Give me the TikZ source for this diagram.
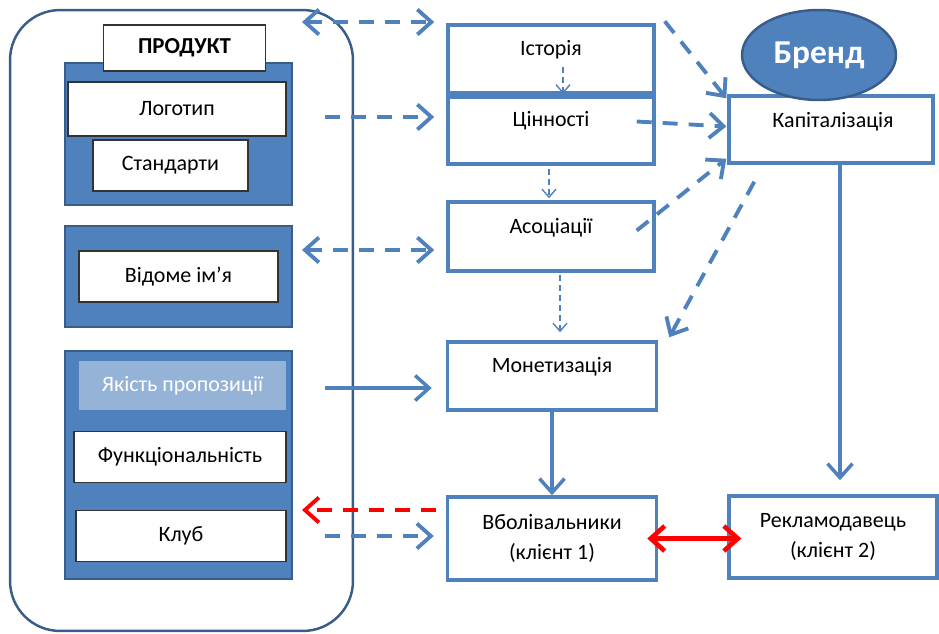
\documentclass[tikz,border=0pt]{standalone}
\usepackage{fontspec}
\setmainfont{Carlito}
\usetikzlibrary{arrows.meta, positioning, calc, shapes.geometric}
\definecolor{cblue}{RGB}{79,129,189}
\definecolor{cdark}{RGB}{56,93,138}
\definecolor{clight}{RGB}{149,179,215}
\definecolor{cred}{RGB}{255,0,0}

\begin{document}
\begin{tikzpicture}[
    x=0.02cm, y=-0.02cm,
    >={Straight Barb[length=2.8mm, width=5mm]},
    txt/.style={font=\fontsize{12.5}{15}\selectfont},
    frame/.style={draw=cdark, line width=1.4pt, rounded corners=1cm, minimum width=6.86cm, minimum height=12.42cm},
    panel/.style={draw=cdark, line width=1.6pt, fill=cblue, minimum width=4.54cm},
    item/.style={txt, draw=black!80, line width=0.9pt, fill=white, minimum height=1.02cm},
    box/.style={draw=cblue, line width=2pt, fill=white, minimum width=4.12cm, minimum height=1.36cm},
    link/.style={draw=cblue, line width=2.2pt, dash pattern=on 3mm off 2.2mm},
    thinlink/.style={draw=cblue, line width=0.8pt, dash pattern=on 1.2mm off 0.8mm, -{Straight Barb[length=1.6mm, width=2.8mm]}},
    flow/.style={draw=cblue, line width=2pt, ->},
]
    \useasboundingbox (0,0) rectangle (939,633);

    % Product frame
    \node[frame] (frame) at (181.5,320.5) {};
    \node[panel, minimum height=2.84cm] (pan1) at (178.5,134) {};
    \node[item, minimum width=4.36cm, minimum height=1.08cm] (logo) at (177,109) {Логотип};
    \node[item, minimum width=3.1cm] (stand) at (170.5,165.5) {Стандарти};
    \node[item, font=\fontsize{13}{15}\selectfont\bfseries, minimum width=3.24cm, minimum height=0.92cm] (produkt) at (184.5,48) {ПРОДУКТ};

    \node[panel, minimum height=2.02cm] (pan2) at (178.5,276.5) {};
    \node[item, minimum width=3.98cm] (vidome) at (178.5,276.5) {Відоме ім’я};

    \node[panel, minimum height=4.56cm] (pan3) at (178.5,465) {};
    \node[txt, fill=clight, text=white, minimum width=4.14cm, minimum height=0.98cm] (yakist) at (182.5,385.5) {Якість пропозиції};
    \node[item, minimum width=4.24cm] (funk) at (180,457) {Функціональність};
    \node[item, minimum width=4.2cm] (klub) at (181,536) {Клуб};

    % Brand column
    \node[box] (ist) at (551,59) {};
    \node[txt] (ist-t) at (551,50) {Історія};
    \node[box, minimum height=1.34cm] (tsin) at (551,130.5) {};
    \node[txt] (tsin-t) at (551,121) {Цінності};
    \node[box, minimum height=1.38cm] (asots) at (551,236.5) {};
    \node[txt] (asots-t) at (551,228) {Асоціації};
    \node[box, minimum width=4.18cm] (monet) at (552,376) {};
    \node[txt] (monet-t) at (552,367) {Монетизація};
    \node[box, txt, align=center, minimum width=4.18cm, minimum height=1.66cm] (vbol) at (552,538.5) {Вболівальники\\[2pt](клієнт 1)};
    \node[box, txt, align=center, minimum width=4.16cm, minimum height=1.64cm] (rekl) at (833,537) {Рекламодавець\\[2pt](клієнт 2)};
    \node[box, minimum width=4.08cm, minimum height=1.34cm] (kap) at (831,129.5) {};
    \node[txt] (kap-t) at (833,122) {Капіталізація};
    \node[ellipse, draw=cdark, line width=1.4pt, fill=cblue, text=white, font=\fontsize{19}{21}\selectfont\bfseries, minimum width=3.08cm, minimum height=1.8cm] (brend) at (819,55) {Бренд};

    % Links from product
    \coordinate (p1) at (302,22);
    \coordinate (p2) at (325,117);
    \coordinate (p3) at (302,250);
    \coordinate (p4) at (325,388);
    \coordinate (p5) at (302,510);
    \coordinate (p6) at (325,536);
    \draw[link, <->] (p1) -- ($(ist.west |- p1)+(-12,0)$);
    \draw[link, ->] (p2) -- ($(tsin.west |- p2)+(-12,0)$);
    \draw[link, <->] (p3) -- ($(asots.west |- p3)+(-12,0)$);
    \draw[flow] (p4) -- ($(monet.west |- p4)+(-14,0)$);
    \draw[link, draw=cred, ->] ($(vbol.west |- p5)+(-10,0)$) -- (p5);
    \draw[link, ->] (p6) -- ($(vbol.west |- p6)+(-12,0)$);

    % Inside the column
    \draw[thinlink] ($(ist.south)+(12,-28)$) -- ($(ist.south)+(12,-1)$);
    \draw[thinlink] ($(tsin.south)+(-2,3)$) -- ($(asots.north)+(-2,-2)$);
    \draw[thinlink] ($(asots.south)+(9,2)$) -- ($(monet.north)+(8,-8)$);

    % To and from capitalisation
    \draw[link, ->] ($(ist.north east)+(9,-2)$) -- ($(kap.north west)+(-1,4)$);
    \draw[link, ->] ($(tsin.east)+(-19,-9)$) -- ($(kap.west)+(-1,-3)$);
    \draw[link, ->] ($(asots.east)+(-19,-6)$) -- ($(kap.south west)+(-1,-6)$);
    \draw[link, ->] ($(kap.south west)+(27,17)$) -- ($(monet.north east)+(11,-3)$);
    \draw[flow] ($(kap.south)+(9,0)$) -- ($(rekl.north)+(7,-14)$);
    \draw[flow] (monet.south) -- (vbol.north);
    \draw[draw=cred, line width=2.6pt, <->] ($(vbol.east)+(-11,0)$) -- ($(rekl.west |- vbol.east)+(14,0)$);
\end{tikzpicture}
\end{document}
